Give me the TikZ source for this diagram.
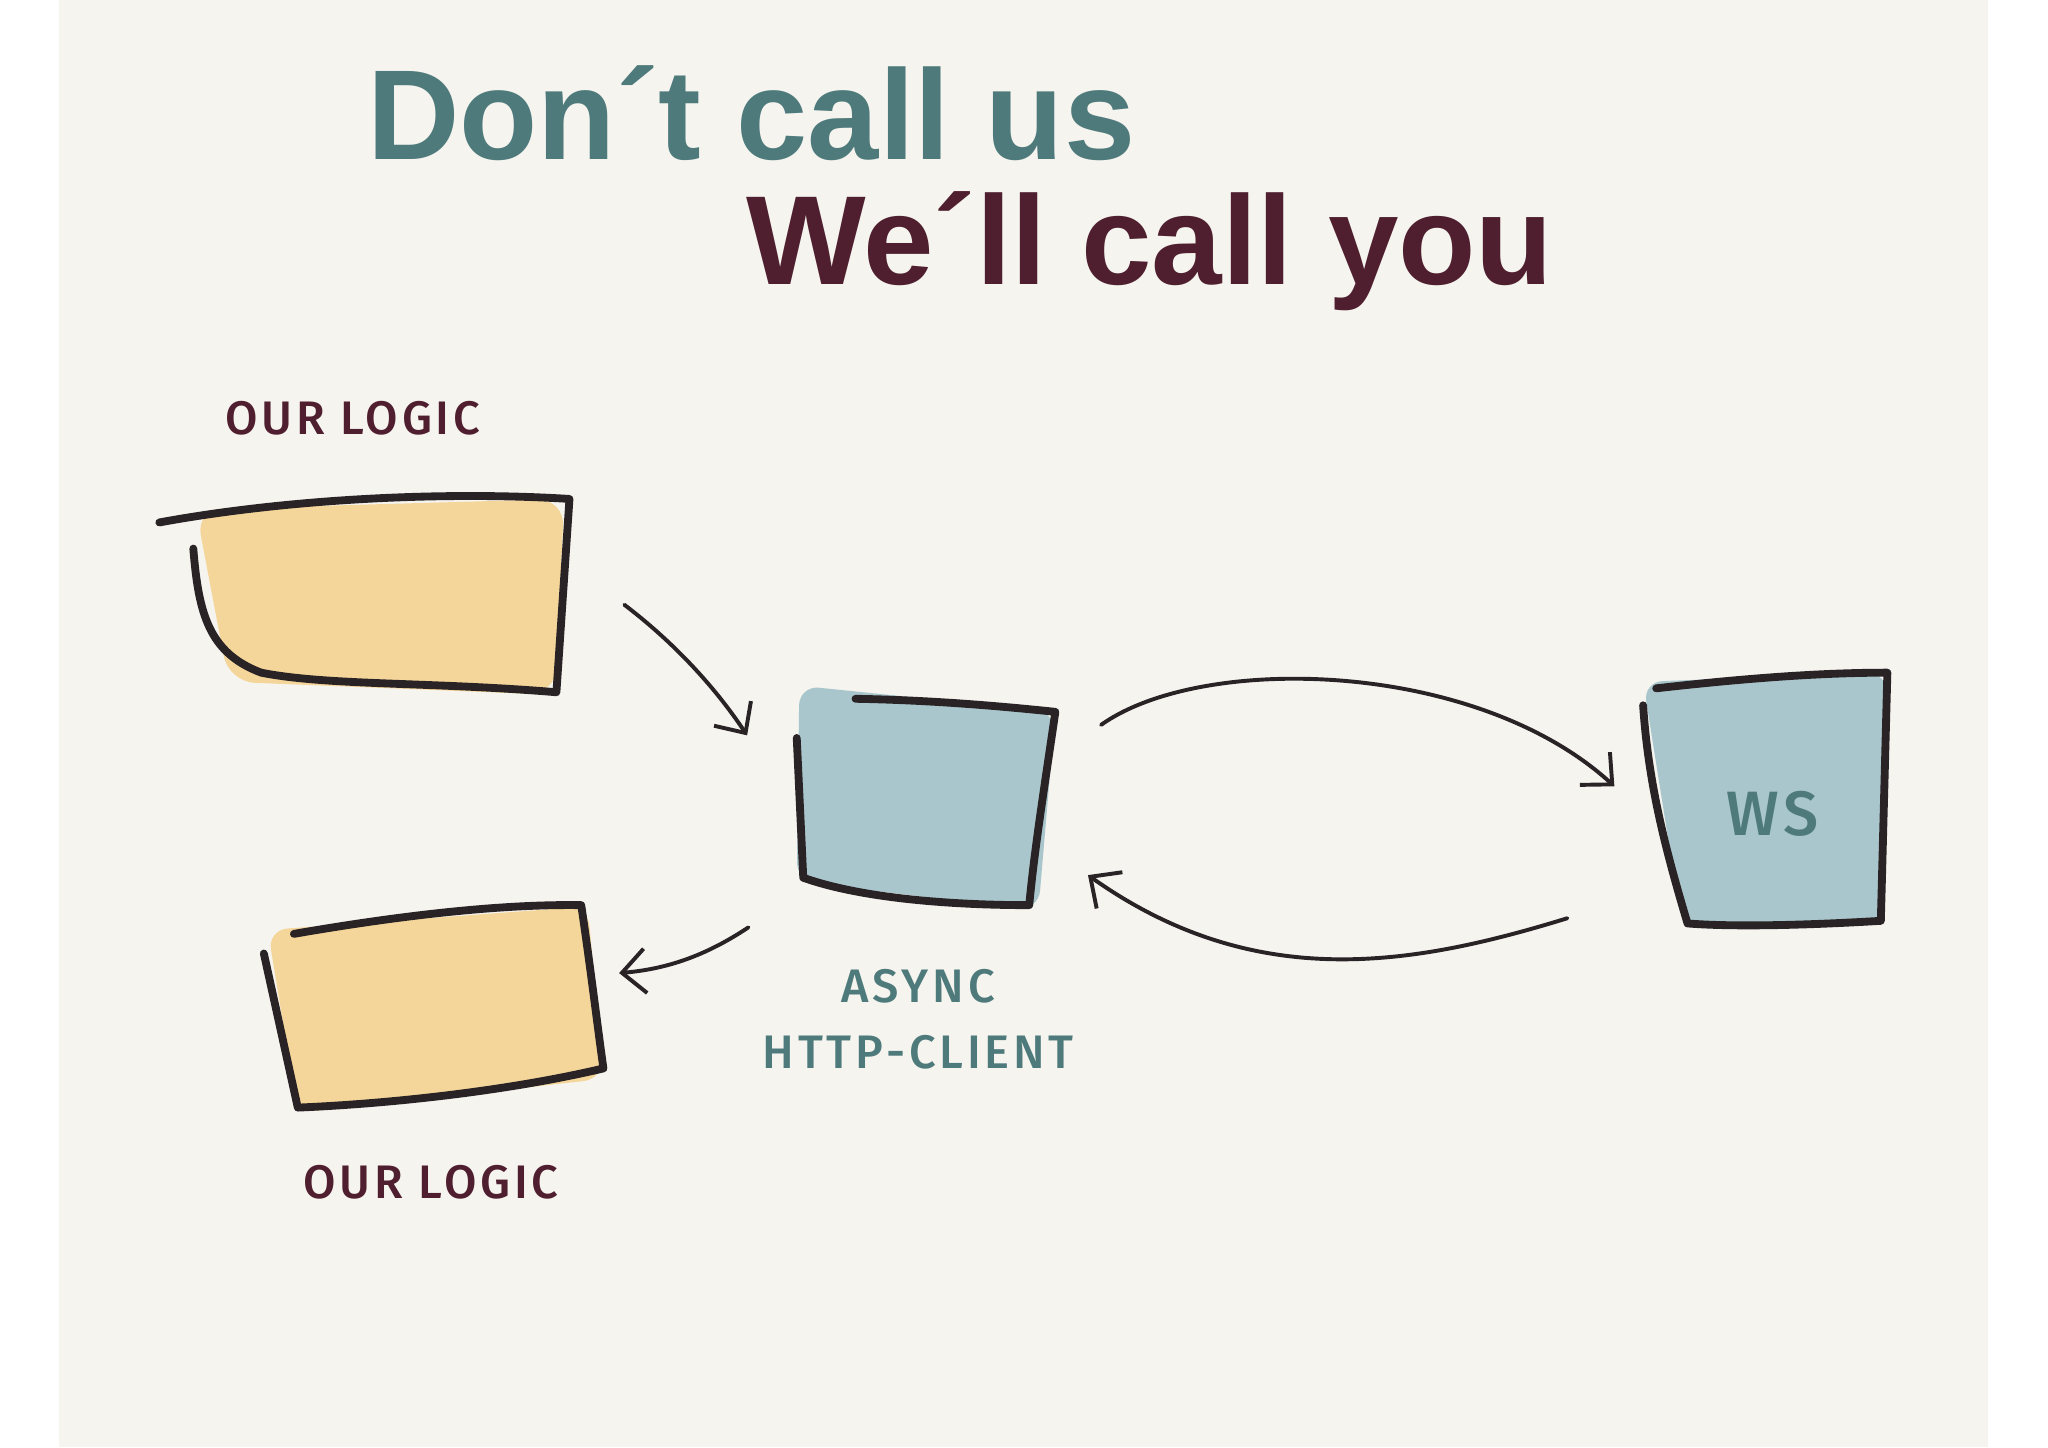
\documentclass[tikz,border=0pt]{standalone}
\usepackage{fontspec}
\setmainfont{Liberation Sans}
\newfontfamily\hand[LetterSpace=8]{Fira Sans Medium}
\usetikzlibrary{arrows.meta}
\definecolor{bg}{HTML}{F5F4EF}
\definecolor{teal}{HTML}{4E7A7C}
\definecolor{maroon}{HTML}{4F1F30}
\definecolor{ora}{HTML}{F5D69A}
\definecolor{blu}{HTML}{A9C6CC}
\definecolor{ink}{HTML}{2A2326}
\tikzset{
 ink/.style={draw=ink,line width=6pt,line cap=round,line join=round},
 arr/.style={draw=ink,line width=3pt,line cap=round,-{Straight Barb[length=18pt,width=34pt,line width=3pt]}},
 lbl/.style={font=\hand\fontsize{36}{40}\selectfont,inner sep=0pt}
}
\begin{document}
\begin{tikzpicture}[x=1pt,y=-1pt]
\useasboundingbox (0,0) rectangle (1568,1108);
\fill[white] (0,0) rectangle (1568,1108);
\fill[bg] (45,0) rectangle (1522,1108);
% titles
\node[anchor=base west,text=teal,font=\bfseries\fontsize{98}{104}\selectfont,inner sep=0pt] (t1) at (281,122) {Don´t call us};
\node[anchor=base west,text=maroon,font=\bfseries\fontsize{97}{104}\selectfont,inner sep=0pt] (t2) at (571,218) {We´ll call you};
% boxes fills
\fill[ora,rounded corners=20pt] (150,390) -- (432,382) -- (425,532) -- (175,522) -- cycle;
\fill[ora,rounded corners=15pt] (205,712) -- (450,694) -- (462,826) -- (228,852) -- cycle;
\fill[blu,rounded corners=15pt] (612,525) -- (808,545) -- (795,697) -- (610,675) -- cycle;
\fill[blu,rounded corners=15pt] (1258,522) -- (1445,515) -- (1440,708) -- (1288,710) -- cycle;
% box outlines
\draw[ink] (122,400) .. controls (220,382) and (340,376) .. (436,382) -- (426,530) .. controls (330,522) and (250,525) .. (200,515) .. controls (160,500) and (152,470) .. (148,420);
\draw[ink] (225,715) .. controls (300,702) and (380,692) .. (445,693) .. controls (452,740) and (458,790) .. (462,818) .. controls (390,835) and (300,845) .. (228,848) -- (202,730);
\draw[ink] (655,535) .. controls (710,536) and (760,540) .. (808,545) .. controls (800,600) and (792,650) .. (788,693) .. controls (730,693) and (660,688) .. (615,672) -- (610,565);
\draw[ink] (1268,527) .. controls (1330,520) and (1390,515) .. (1445,515) -- (1440,705) .. controls (1390,708) and (1330,710) .. (1292,707) .. controls (1275,650) and (1262,600) .. (1258,540);
% anchors
\coordinate (a1) at (478,463); \coordinate (b1) at (572,563);
\coordinate (a2) at (843,555); \coordinate (b2) at (1236,602);
\coordinate (a3) at (1200,703); \coordinate (b3) at (833,670);
\coordinate (a4) at (573,710); \coordinate (b4) at (474,745);
\draw[arr] (a1) .. controls (520,495) and (550,530) .. (b1);
\draw[arr] (a2) .. controls (920,500) and (1130,505) .. (b2);
\draw[arr] (a3) .. controls (1080,740) and (960,760) .. (b3);
\draw[arr] (a4) .. controls (540,732) and (510,742) .. (b4);
% labels
\node[lbl,text=maroon] (l1) at (270,320) {OUR LOGIC};
\node[lbl,text=maroon] (l2) at (330,905) {OUR LOGIC};
\node[lbl,text=teal] (l3) at (703,755) {ASYNC};
\node[lbl,text=teal] (l4) at (703,806) {HTTP-CLIENT};
\node[lbl,text=teal,font=\hand\fontsize{48}{52}\selectfont] (l5) at (1357,623) {WS};
\end{tikzpicture}
\end{document}
